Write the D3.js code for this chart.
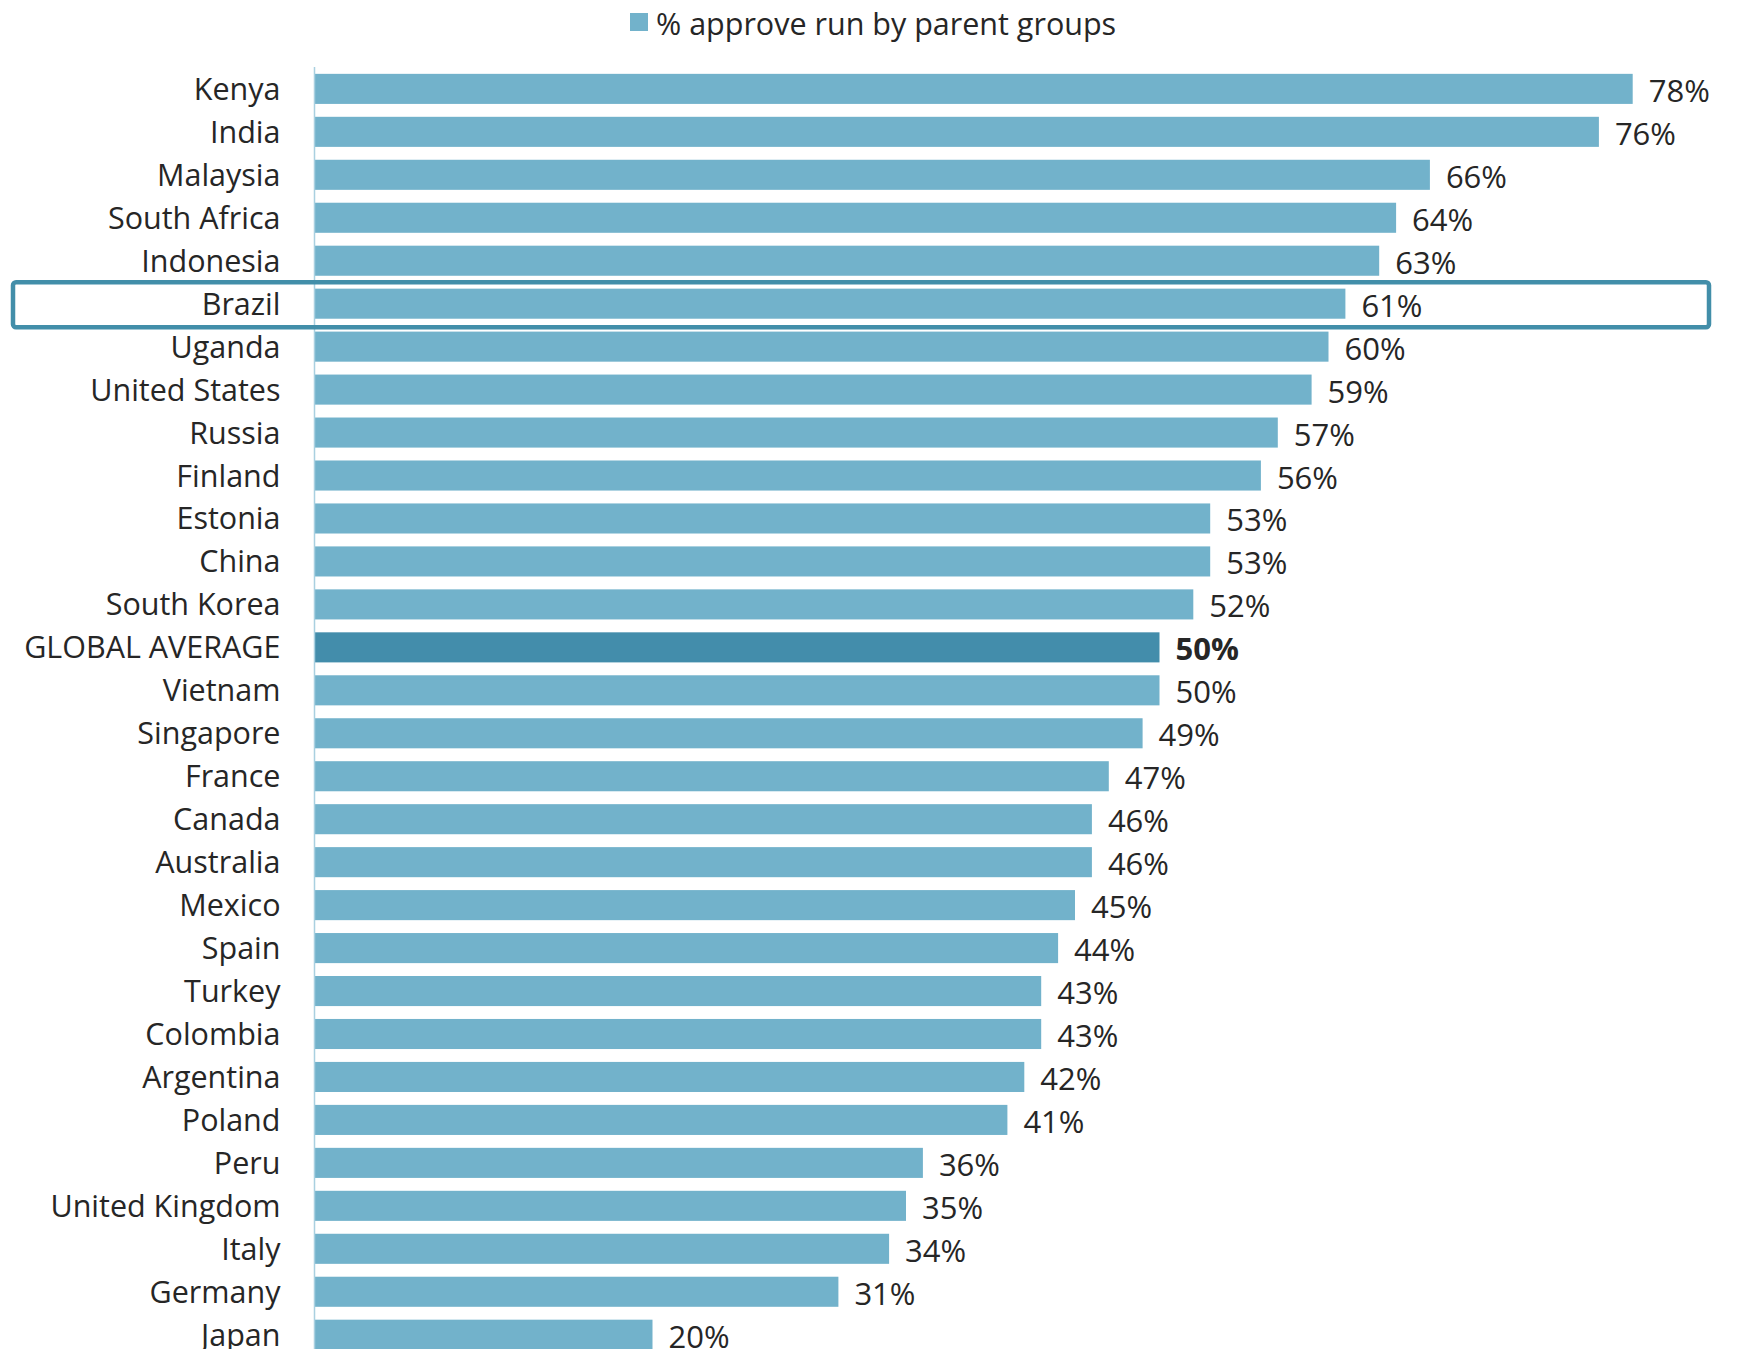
<!DOCTYPE html>
<html>
<head>
<meta charset="utf-8">
<script src="https://cdn.jsdelivr.net/npm/d3@7"></script>
<style>
  body { margin: 0; background: #fff; }
  text { font-family: "Open Sans", "Noto Sans", sans-serif; fill: #262626; }
</style>
</head>
<body>
<svg id="chart"></svg>
<script>
const countries = ['Kenya', 'India', 'Malaysia', 'South Africa', 'Indonesia', 'Brazil', 'Uganda',
  'United States', 'Russia', 'Finland', 'Estonia', 'China', 'South Korea', 'GLOBAL AVERAGE',
  'Vietnam', 'Singapore', 'France', 'Canada', 'Australia', 'Mexico', 'Spain', 'Turkey',
  'Colombia', 'Argentina', 'Poland', 'Peru', 'United Kingdom', 'Italy', 'Germany', 'Japan'];
const approve = [78, 76, 66, 64, 63, 61, 60, 59, 57, 56, 53, 53, 52, 50, 50, 49, 47, 46, 46,
  45, 44, 43, 43, 42, 41, 36, 35, 34, 31, 20];
const seriesName = '% approve run by parent groups';
const averageName = 'GLOBAL AVERAGE';
const highlightName = 'Brazil';

const width = 1741, height = 1349;
const margin = {top: 67.4, left: 314.5};
const step = 42.96;

const data = countries.map((c, i) => ({country: c, value: approve[i]}));

const svg = d3.select('#chart').attr('width', width).attr('height', height);

const xScale = d3.scaleLinear()
  .domain([0, 100])
  .range([margin.left, margin.left + 1690]);

const yScale = d3.scaleBand()
  .domain(countries)
  .range([margin.top, margin.top + step * countries.length])
  .paddingInner(0.3)
  .paddingOuter(0.15);

// legend
const legend = svg.append('g').attr('class', 'legend');
legend.append('rect')
  .attr('x', 630).attr('y', 13)
  .attr('width', 18).attr('height', 18)
  .attr('fill', '#72b2cb');
legend.append('text')
  .attr('x', 656).attr('y', 23)
  .attr('dominant-baseline', 'central')
  .style('font-size', '30.5px')
  .text(seriesName);

// bars
svg.append('g').selectAll('rect').data(data).enter().append('rect')
  .attr('x', xScale(0))
  .attr('y', d => yScale(d.country))
  .attr('width', d => xScale(d.value) - xScale(0))
  .attr('height', yScale.bandwidth())
  .attr('fill', d => d.country === averageName ? '#438dab' : '#72b2cb');

// axis (categories)
const yAxis = d3.axisLeft(yScale).tickSize(0).tickPadding(34);
const yAxisG = svg.append('g')
  .attr('transform', `translate(${margin.left},0)`)
  .call(yAxis);
yAxisG.select('.domain').remove();
yAxisG.selectAll('text')
  .style('font-size', '30.5px')
  .attr('fill', '#262626')
  .attr('dy', '0.36em')
  .style('font-family', '"Open Sans", "Noto Sans", sans-serif');

svg.append('line')
  .attr('x1', margin.left).attr('x2', margin.left)
  .attr('y1', 67).attr('y2', height)
  .attr('stroke', '#a9d0e0')
  .attr('stroke-width', 1.5);

// value labels
svg.append('g').selectAll('text').data(data).enter().append('text')
  .attr('x', d => xScale(d.value) + 16)
  .attr('y', d => yScale(d.country) + yScale.bandwidth() / 2 + 1)
  .attr('dominant-baseline', 'central')
  .style('font-size', '31px')
  .style('font-weight', d => d.country === averageName ? 'bold' : 'normal')
  .text(d => d.value + '%');

// highlight box
const hy = yScale(highlightName) + yScale.bandwidth() / 2;
svg.append('rect')
  .attr('x', 13).attr('y', hy - 21.5)
  .attr('width', 1696).attr('height', 45)
  .attr('rx', 3)
  .attr('fill', 'none')
  .attr('stroke', '#428ea9')
  .attr('stroke-width', 4.5);
</script>
</body>
</html>
